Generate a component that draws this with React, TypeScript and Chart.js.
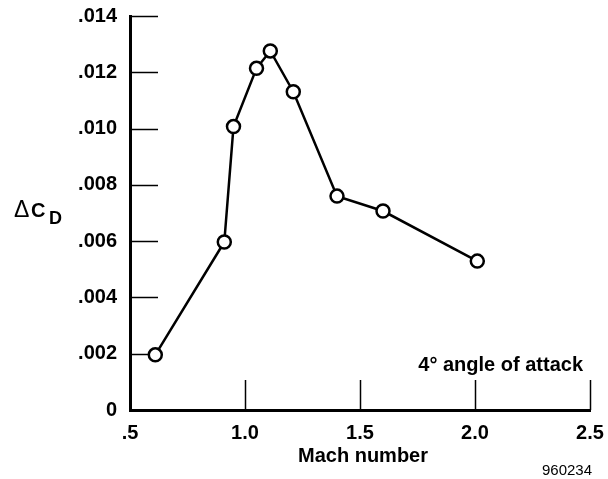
import React, { useEffect, useRef } from "react";
import { Chart, registerables } from "chart.js";

Chart.register(...registerables);

const machNumbers = [0.61, 0.91, 0.95, 1.05, 1.11, 1.21, 1.4, 1.6, 2.01];
const deltaCD = [0.00196, 0.00597, 0.01007, 0.01214, 0.01276, 0.01131, 0.0076, 0.00707, 0.00529];
const xTickValues = [0.5, 1.0, 1.5, 2.0, 2.5];
const xTickLabels = [".5", "1.0", "1.5", "2.0", "2.5"];
const yTickValues = [0, 0.002, 0.004, 0.006, 0.008, 0.01, 0.012, 0.014];
const yTickLabels = ["0", ".002", ".004", ".006", ".008", ".010", ".012", ".014"];

const FONT = "'Liberation Sans', Arial, Helvetica, sans-serif";

const decorPlugin = {
  id: "decor",
  beforeDatasetsDraw(chart: any) {
    const { ctx, chartArea } = chart;
    const xs = chart.scales.x;
    const ys = chart.scales.y;
    ctx.save();
    ctx.strokeStyle = "#000";
    ctx.lineWidth = 1.5;
    yTickValues.forEach((v) => {
      if (v === 0) return;
      const py = Math.round(ys.getPixelForValue(v)) + 0.5;
      ctx.beginPath();
      ctx.moveTo(chartArea.left, py);
      ctx.lineTo(chartArea.left + 28, py);
      ctx.stroke();
    });
    xTickValues.forEach((v) => {
      if (v === 0.5) return;
      const px = Math.round(xs.getPixelForValue(v)) + 0.5;
      ctx.beginPath();
      ctx.moveTo(px, chartArea.bottom);
      ctx.lineTo(px, chartArea.bottom - 30);
      ctx.stroke();
    });
    ctx.restore();
  },
  afterDraw(chart: any) {
    const { ctx, chartArea } = chart;
    ctx.save();
    ctx.fillStyle = "#000";
    ctx.textAlign = "left";
    ctx.textBaseline = "alphabetic";
    ctx.font = `23px ${FONT}`;
    ctx.fillText("Δ", 14, 217);
    ctx.font = `bold 20px ${FONT}`;
    ctx.fillText("C", 31, 217);
    ctx.font = `bold 18px ${FONT}`;
    ctx.fillText("D", 49, 224);
    ctx.textAlign = "center";
    ctx.font = `bold 20px ${FONT}`;
    ctx.fillText("Mach number", (chartArea.left + chartArea.right) / 2 + 3, 462);
    ctx.textAlign = "right";
    ctx.fillText("4° angle of attack", 583, 371);
    ctx.font = `15px ${FONT}`;
    ctx.fillText("960234", 592, 475);
    ctx.restore();
  },
};

export default function App() {
  const canvasRef = useRef<HTMLCanvasElement | null>(null);

  useEffect(() => {
    if (!canvasRef.current) return;
    const chart = new Chart(canvasRef.current, {
      type: "scatter",
      data: {
        datasets: [
          {
            data: machNumbers.map((m, i) => ({ x: m, y: deltaCD[i] })),
            showLine: true,
            borderColor: "#000",
            borderWidth: 2.5,
            pointRadius: 6.5,
            pointHoverRadius: 6.5,
            pointBorderWidth: 2.5,
            pointBorderColor: "#000",
            pointBackgroundColor: "#fff",
          },
        ],
      },
      options: {
        animation: false,
        responsive: false,
        maintainAspectRatio: false,
        events: [],
        layout: { padding: { top: 16, right: 18, left: 0, bottom: 0 } },
        plugins: {
          legend: { display: false },
          tooltip: { enabled: false },
          title: { display: false },
        },
        scales: {
          x: {
            type: "linear",
            min: 0.5,
            max: 2.5,
            afterBuildTicks: (scale: any) => {
              scale.ticks = xTickValues.map((v) => ({ value: v }));
            },
            afterFit: (scale: any) => {
              scale.height = 69;
              scale.paddingLeft = 0;
              scale.paddingRight = 0;
            },
            ticks: {
              maxRotation: 0,
              autoSkip: false,
              padding: 11,
              color: "#000",
              font: { family: FONT, size: 20, weight: "bold" },
              callback: (v: any) => {
                const i = xTickValues.findIndex((t) => Math.abs(t - Number(v)) < 1e-9);
                return i >= 0 ? xTickLabels[i] : "";
              },
            },
            grid: { display: false, drawTicks: false },
            border: { display: true, color: "#000", width: 3 },
          },
          y: {
            type: "linear",
            min: 0,
            max: 0.014,
            afterBuildTicks: (scale: any) => {
              scale.ticks = yTickValues.map((v) => ({ value: v }));
            },
            afterFit: (scale: any) => {
              scale.width = 130;
              scale.paddingTop = 0;
              scale.paddingBottom = 0;
            },
            ticks: {
              autoSkip: false,
              padding: 13,
              color: "#000",
              font: { family: FONT, size: 20, weight: "bold" },
              callback: (v: any) => {
                const i = yTickValues.findIndex((t) => Math.abs(t - Number(v)) < 1e-9);
                return i >= 0 ? yTickLabels[i] : "";
              },
            },
            grid: { display: false, drawTicks: false },
            border: { display: true, color: "#000", width: 3 },
          },
        },
      },
      plugins: [decorPlugin],
    });
    return () => chart.destroy();
  }, []);

  return (
    <div style={{ position: "absolute", left: 0, top: 0, width: 608, height: 479, background: "#fff" }}>
      <canvas ref={canvasRef} width={608} height={479} style={{ width: 608, height: 479, display: "block" }} />
    </div>
  );
}
